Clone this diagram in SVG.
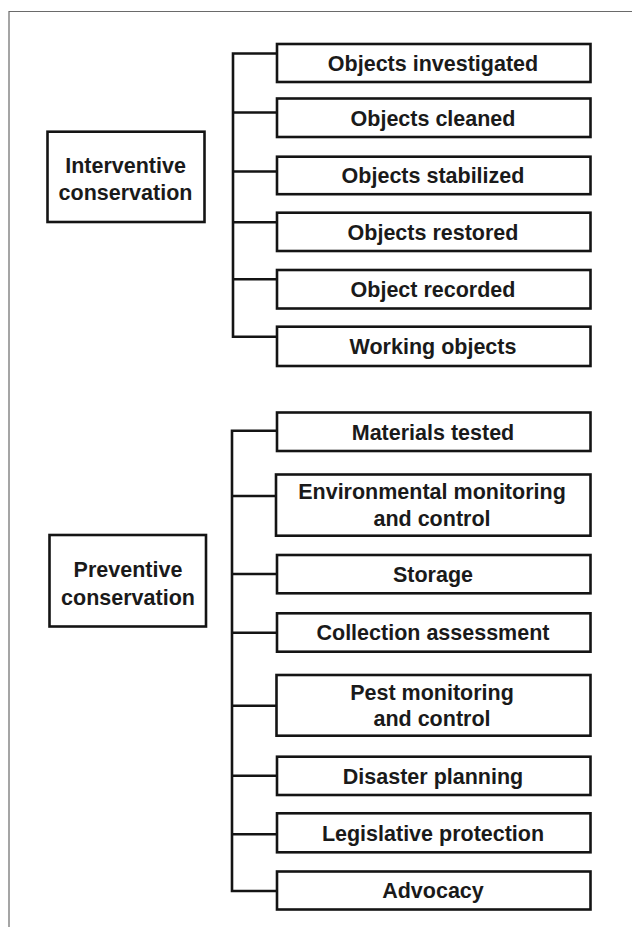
<svg xmlns="http://www.w3.org/2000/svg" width="632" height="927" viewBox="0 0 632 927">
  <style>
    .frame { fill: none; stroke: #6a6a6a; stroke-width: 1.2; }
    .box { fill: #ffffff; stroke: #141414; stroke-width: 2.6; }
    .wire { fill: none; stroke: #141414; stroke-width: 2.6; stroke-linejoin: miter; }
    .label { font-family: "Liberation Sans", Arial, Helvetica, sans-serif; font-weight: bold; font-size: 21.5px; fill: #1a1a1a; text-anchor: middle; }
  </style>
  <rect x="0" y="0" width="632" height="927" fill="#ffffff"/>
  <!-- page frame -->
  <path class="frame" d="M9,927 V11.5 H632"/>

  <!-- connectors -->
  <g id="connectors">
    <path class="wire" d="M277,53.5 H233 V336.7 H277"/>
    <path class="wire" d="M233,112.5 H277 M233,171.5 H277 M233,222.3 H277 M233,279.3 H277"/>
    <path class="wire" d="M277,430.7 H232 V891 H277"/>
    <path class="wire" d="M232,496 H277 M232,574 H277 M232,632.7 H277 M232,705.7 H277 M232,775.7 H277 M232,834.2 H277"/>
  </g>

  <!-- interventive branch -->
  <g id="interventive">
    <rect class="box" x="47.5" y="131.7" width="157" height="90.3"/>
    <text class="label" x="125.5" y="173">Interventive</text>
    <text class="label" x="125.5" y="200">conservation</text>
  </g>
  <g id="objects-investigated">
    <rect class="box" x="277" y="44" width="313.5" height="38"/>
    <text class="label" x="433" y="70.8">Objects investigated</text>
  </g>
  <g id="objects-cleaned">
    <rect class="box" x="277" y="98.5" width="313.5" height="38.5"/>
    <text class="label" x="433" y="125.5">Objects cleaned</text>
  </g>
  <g id="objects-stabilized">
    <rect class="box" x="277" y="156.7" width="313.5" height="37.5"/>
    <text class="label" x="433" y="183.2">Objects stabilized</text>
  </g>
  <g id="objects-restored">
    <rect class="box" x="277" y="212.7" width="313.5" height="38.3"/>
    <text class="label" x="433" y="239.5">Objects restored</text>
  </g>
  <g id="object-recorded">
    <rect class="box" x="277" y="270" width="313.5" height="38.5"/>
    <text class="label" x="433" y="297">Object recorded</text>
  </g>
  <g id="working-objects">
    <rect class="box" x="277" y="326.7" width="313.5" height="39.3"/>
    <text class="label" x="433" y="354">Working objects</text>
  </g>

  <!-- preventive branch -->
  <g id="preventive">
    <rect class="box" x="49.5" y="535" width="156.5" height="91.5"/>
    <text class="label" x="128" y="577.3">Preventive</text>
    <text class="label" x="128" y="605">conservation</text>
  </g>
  <g id="materials-tested">
    <rect class="box" x="277" y="412.5" width="313.5" height="38.5"/>
    <text class="label" x="433" y="439.5">Materials tested</text>
  </g>
  <g id="environmental-monitoring">
    <rect class="box" x="276" y="474.5" width="314.5" height="61.2"/>
    <text class="label" x="432" y="499.3">Environmental monitoring</text>
    <text class="label" x="432" y="526">and control</text>
  </g>
  <g id="storage">
    <rect class="box" x="277" y="555" width="313.5" height="38.3"/>
    <text class="label" x="433" y="581.8">Storage</text>
  </g>
  <g id="collection-assessment">
    <rect class="box" x="277" y="613.3" width="313.5" height="38.4"/>
    <text class="label" x="433" y="640.2">Collection assessment</text>
  </g>
  <g id="pest-monitoring">
    <rect class="box" x="276.5" y="675" width="314" height="60.7"/>
    <text class="label" x="432" y="699.7">Pest monitoring</text>
    <text class="label" x="432" y="726.3">and control</text>
  </g>
  <g id="disaster-planning">
    <rect class="box" x="277" y="756.7" width="313.5" height="38.3"/>
    <text class="label" x="433" y="783.5">Disaster planning</text>
  </g>
  <g id="legislative-protection">
    <rect class="box" x="277" y="813.3" width="313.5" height="39"/>
    <text class="label" x="433" y="840.5">Legislative protection</text>
  </g>
  <g id="advocacy">
    <rect class="box" x="277" y="871.5" width="313.5" height="38"/>
    <text class="label" x="433" y="898.2">Advocacy</text>
  </g>
</svg>
